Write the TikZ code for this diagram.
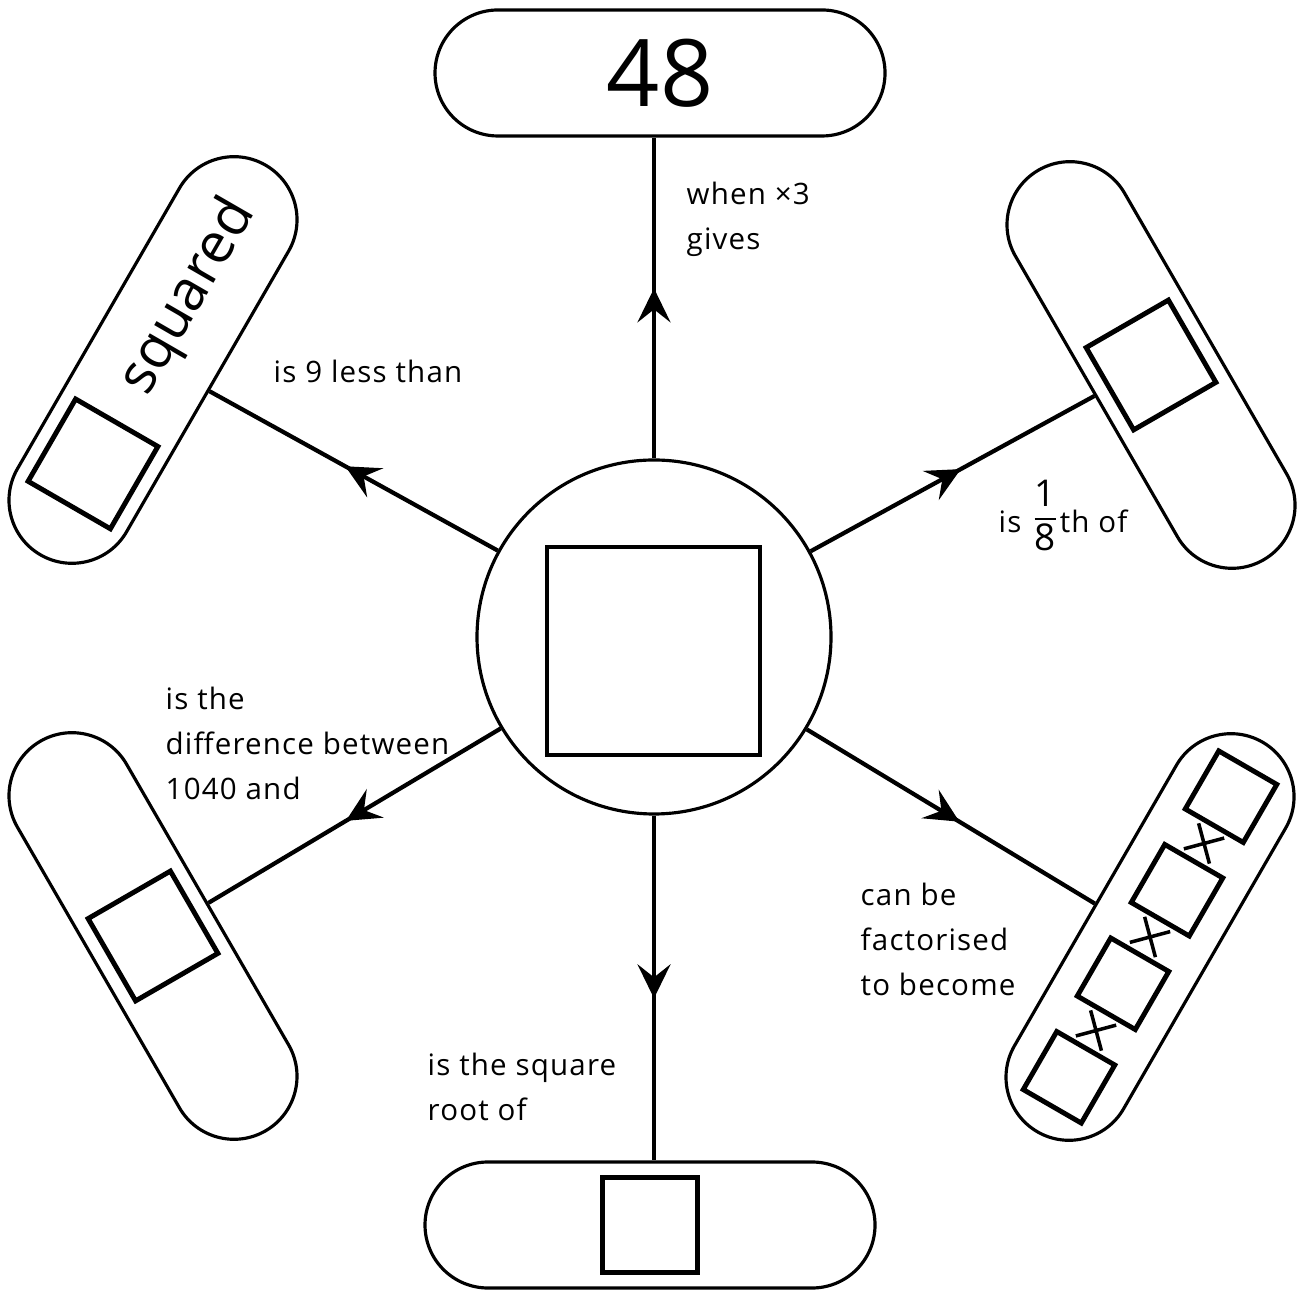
\documentclass[tikz,border=0pt]{standalone}
\usepackage{amsmath}
\usepackage{fontspec}
\setmainfont{Open Sans}
\newfontfamily\lblfont{Open Sans}[LetterSpace=4]
\usetikzlibrary{arrows.meta,shapes,decorations.markings,calc}

\begin{document}
\begin{tikzpicture}[
  pill/.style={draw, line width=0.9pt, rounded rectangle, minimum width=4.5cm, minimum height=1.26cm, inner sep=0pt},
  blank/.style={draw, line width=1.4pt, minimum size=0.95cm, inner sep=0pt},
  smallblank/.style={draw, line width=1.4pt, minimum size=0.67cm, inner sep=0pt},
  times/.style={draw, cross out, line width=1pt, minimum size=0.26cm, inner sep=0pt},
  conn/.style={line width=1.2pt, postaction={decorate}, decoration={markings, mark=at position 0.53 with {\arrow{Stealth[length=3.4mm,width=3.3mm,inset=1.3mm]}}}},
  lbl/.style={inner sep=0pt, align=left, font=\lblfont\fontsize{8.4}{12.8}\selectfont}
]
\useasboundingbox (0,0) rectangle (13.03,12.91);

%%% CENTRE
\path[draw] (6.54,6.54) node[draw, circle, line width=0.9pt, minimum size=3.54cm, inner sep=0pt] (nodeMid) {};
\path[draw] (6.535,6.40) node[draw, line width=1.4pt, minimum width=2.13cm, minimum height=2.08cm, inner sep=0pt] (nodeBox) {};

%%% TOP: 48
\path[draw] (6.60,12.18) node[pill] (nodeTop) {\fontsize{26.5}{30}\selectfont 48};
\path[draw, conn] (nodeMid.north) -- (nodeMid.north |- nodeTop.south);
\path[draw] (6.86,11.10) node[lbl, anchor=north west] (nodeGives) {when ×3\\gives};

%%% UPPER LEFT: squared
\path[draw] (1.53,9.31) node[pill, rotate=60] (nodeSq) {};
\path[draw] ($(nodeSq.center)+(240:1.2)$) node[blank, rotate=60] (nodeSqBox) {};
\path[draw] ($(nodeSq.center)+(60:0.72)$) node[rotate=60, font=\fontsize{16}{18}\selectfont] (nodeSqText) {squared};
\path[draw, conn] (nodeMid) -- (nodeSq);
\path[draw] (2.73,9.08) node[lbl, anchor=base west] (nodeLess) {is 9 less than};

%%% UPPER RIGHT: one eighth
\path[draw] (11.51,9.26) node[pill, rotate=-60] (nodeEighth) {};
\path[draw] (nodeEighth.center) node[blank, rotate=-60] (nodeEighthBox) {};
\path[draw, conn] (nodeMid) -- (nodeEighth);
\path[draw] (9.98,7.58) node[lbl, anchor=base west] (nodeFrac) {is \raisebox{2pt}{$\dfrac{\textup{\fontsize{10.5}{12}\selectfont 1}}{\textup{\fontsize{10.5}{12}\selectfont 8}}$}th of};

%%% LOWER LEFT: difference
\path[draw] (1.53,3.55) node[pill, rotate=-60] (nodeDiff) {};
\path[draw] (nodeDiff.center) node[blank, rotate=-60] (nodeDiffBox) {};
\path[draw, conn] (nodeMid) -- (nodeDiff);
\path[draw] (1.65,6.05) node[lbl, anchor=north west] (nodeBetween) {is the\\difference between\\1040 and};

%%% LOWER RIGHT: factors
\path[draw] (11.50,3.54) node[pill, rotate=60] (nodeFact) {};
\foreach \d/\n in {-1.62/1,-0.54/2,0.54/3,1.62/4}
  \path[draw] ($(nodeFact.center)+(60:\d)$) node[smallblank, rotate=60] (nodeFactBox\n) {};
\foreach \d/\n in {-1.08/1,0/2,1.08/3}
  \path[draw] ($(nodeFact.center)+(60:\d)$) node[times, rotate=60] (nodeTimes\n) {};
\path[draw, conn] (nodeMid) -- (nodeFact);
\path[draw] (8.60,4.09) node[lbl, anchor=north west] (nodeBecome) {can be\\factorised\\to become};

%%% BOTTOM: square root
\path[draw] (6.50,0.66) node[pill] (nodeRoot) {};
\path[draw] (nodeRoot.center) node[blank] (nodeRootBox) {};
\path[draw, conn] (nodeMid.south) -- (nodeMid.south |- nodeRoot.north);
\path[draw] (4.27,2.39) node[lbl, anchor=north west] (nodeSqrt) {is the square\\root of};
\end{tikzpicture}
\end{document}
